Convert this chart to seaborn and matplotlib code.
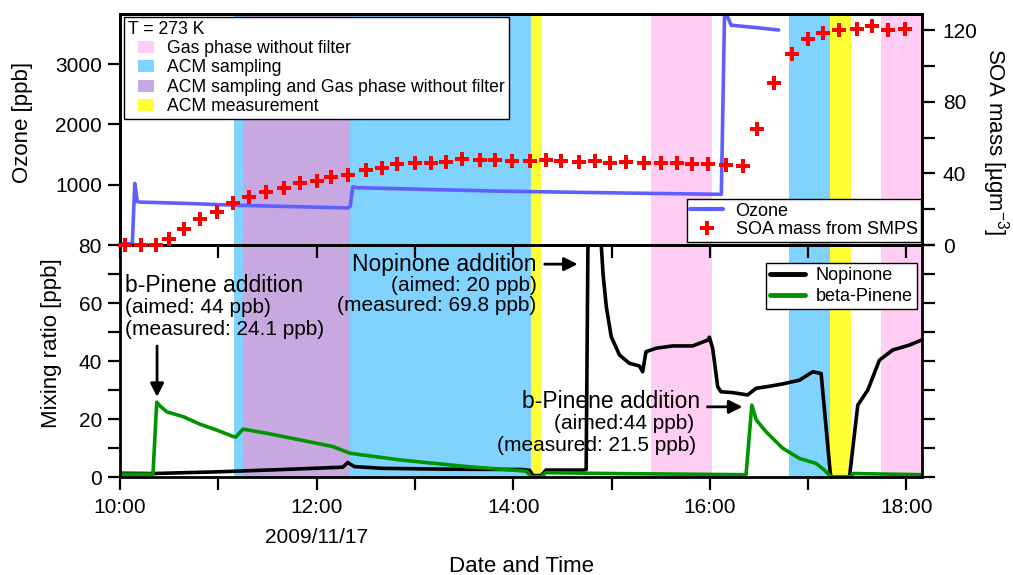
import pandas as pd
import matplotlib
matplotlib.use("Agg")
import matplotlib.pyplot as plt
from matplotlib.patches import Patch, Rectangle
from matplotlib.lines import Line2D
from matplotlib.legend_handler import HandlerPatch
import seaborn as sns

sns.set_theme(style="ticks")
plt.rcParams['font.family'] = ['Liberation Sans', 'DejaVu Sans']
plt.rcParams['mathtext.fontset'] = 'custom'
plt.rcParams['mathtext.rm'] = 'Liberation Sans'
plt.rcParams['mathtext.it'] = 'Liberation Sans:italic'
for key in ['text.color', 'axes.labelcolor', 'xtick.color', 'ytick.color', 'axes.edgecolor']:
    plt.rcParams[key] = 'black'

t0 = pd.Timestamp("2009-11-17 10:00")

# ozone [ppb] vs minutes after 10:00
ozone_min = [0.5, 7.5, 9, 10.5, 12, 40, 70, 100, 139, 140.5, 142, 145, 190, 232, 300, 367, 369, 373, 390, 402]
ozone_ppb = [20, 20, 1020, 720, 712, 690, 660, 640, 615, 640, 965, 950, 920, 893, 865, 840, 3900, 3645, 3600, 3565]

# SOA mass from SMPS [ug m-3]
soa_min = [3, 13, 22, 30, 39, 49, 59, 69, 79, 89, 100, 110, 120, 129, 139, 150, 160, 169, 180, 190,
           199, 209, 220, 229, 239, 250, 260, 269, 280, 290, 299, 309, 320, 330, 340, 349, 359, 370,
           380, 389, 399, 410, 420, 429, 439, 450, 459, 469, 479]
soa_mass = [0, 0, 0, 3.2, 8.8, 14.3, 18.6, 23.6, 27, 29.7, 32, 34.4, 35.9, 37.8, 39.2, 41.8, 42.8, 45, 45.6, 45.9,
            46.5, 47.8, 47.4, 47.4, 47.0, 47.0, 47.4, 47.0, 46.5, 47.0, 45.9, 46.5, 45.9, 45.9, 45.6, 45.2, 45.2, 44.6,
            44.3, 64.7, 90.6, 106.4, 115.3, 118.5, 120, 120.9, 122.2, 120, 120.4]

# nopinone [ppb]
nopi_min = [0, 20, 60, 100, 136, 139, 143, 160, 200, 245, 250, 252, 257, 260, 283.5, 284.5, 286, 291,
            293.5, 294.8, 296.8, 299.8, 304.8, 310.9, 317, 319, 321, 327.1, 337.3, 349.5, 358.7, 359.7,
            361.7, 364.8, 366.8, 373.9, 383.1, 388.2, 394.3, 404.5, 414.7, 422.8, 427.9, 433.5, 434,
            445.2, 450.3, 456.4, 463.5, 471.6, 481.8, 489]
nopi_ppb = [1.3, 1.2, 1.8, 2.6, 3.4, 5.0, 3.6, 3.0, 2.7, 2.6, 2.3, 0.5, 0.5, 2.4, 2.4, 2.6, 110, 110,
            82, 70, 58.7, 48.4, 42.1, 39.2, 38.3, 36.3, 43.2, 44.4, 45.2, 45.2, 47.2, 48.2,
            44.4, 31.1, 29.4, 29.1, 28.3, 30.6, 31.1, 32.1, 33.4, 36.3, 35.7, 1.3, 0,
            0, 24.8, 30, 40.3, 43.8, 45.5, 47.2]

# beta-pinene [ppb]
bpin_min = [0, 20.1, 22.4, 24.4, 28.5, 38.6, 48.8, 59, 68.9, 70.7, 75, 89.5, 109.8, 129.9, 140.3, 170.7,
            211.6, 243.9, 248, 251, 257, 260, 300, 340, 382.1, 385.6, 388.3, 394.3, 404.5, 414.7, 424.8,
            429.9, 434, 446, 447.5, 489]
bpin_ppb = [1.0, 1.0, 25.8, 24.5, 22.5, 20.8, 18.2, 16.2, 14.0, 13.8, 16.5, 15.1, 12.8, 10.5, 8.2, 5.9,
            3.6, 2.2, 2.0, 0.1, 0.1, 1.5, 1.2, 1.0, 0.8, 24.8, 19.7, 15.6, 9.9, 6.4, 4.7,
            2.4, 0.1, 0.1, 1.2, 0.8]

# experiment phases (start, end in minutes after 10:00, phase index)
phase_labels = ["Gas phase without filter", "ACM sampling",
                "ACM sampling and Gas phase without filter", "ACM measurement"]
phase_colors = ["#FFCCF2", "#80D2FF", "#C8A8E0", "#FFFF33"]
phase_spans = [(69.5, 75.0, 1), (75.0, 140.6, 2), (140.6, 250.6, 1), (250.6, 257.1, 3),
               (323.8, 361.4, 0), (408.5, 433.2, 1), (433.2, 446.4, 3), (464.6, 489.5, 0)]


def tm(m):
    return t0 + pd.to_timedelta(m, unit="min")


ozone_df = pd.DataFrame({"time": tm(pd.Series(ozone_min)), "ozone": ozone_ppb})
soa_df = pd.DataFrame({"time": tm(pd.Series(soa_min)), "soa": soa_mass})
nopi_df = pd.DataFrame({"time": tm(pd.Series(nopi_min)), "ppb": nopi_ppb})
bpin_df = pd.DataFrame({"time": tm(pd.Series(bpin_min)), "ppb": bpin_ppb})

c_ozone = "#5F5FFF"
c_green = "#009400"

fig = plt.figure(figsize=(10.13, 5.75), dpi=100)
ax1 = fig.add_axes([0.1185, 0.5739, 0.7917, 0.4017])
ax2 = fig.add_axes([0.1185, 0.1704, 0.7917, 0.4035])
ax1b = ax1.twinx()
ax2.set_zorder(1)
ax1.set_zorder(2)
ax1b.set_zorder(3)
ax2.patch.set_visible(False)

for ax in (ax1, ax2):
    for a, b, k in phase_spans:
        ax.axvspan(tm(a), tm(b), color=phase_colors[k], lw=0, zorder=0)

sns.lineplot(data=ozone_df, x="time", y="ozone", ax=ax1, color=c_ozone, lw=2.6, sort=False, legend=False)
sns.scatterplot(data=soa_df, x="time", y="soa", ax=ax1b, marker="P", s=95, color="red",
                linewidth=0, clip_on=False, legend=False, zorder=4)
sns.lineplot(data=nopi_df, x="time", y="ppb", ax=ax2, color="black", lw=2.6, sort=False, legend=False)
sns.lineplot(data=bpin_df, x="time", y="ppb", ax=ax2, color=c_green, lw=2.6, sort=False, legend=False)

xmin, xmax = tm(0), tm(489.5)
for ax in (ax1, ax1b, ax2):
    ax.set_xlim(xmin, xmax)
    for s in ax.spines.values():
        s.set_linewidth(2)
        s.set_color("black")

ax1.set_ylim(0, 3830)
ax1.set_yticks([1000, 2000, 3000])
ax1b.set_ylim(0, 129)
ax1b.set_yticks([0, 40, 80, 120])
ax1b.set_yticks([20, 60, 100], minor=True)
ax2.set_ylim(0, 80)
ax2.set_yticks([0, 20, 40, 60, 80])
ax2.set_yticks([10, 30, 50, 70], minor=True)

major = [tm(60 * h) for h in range(0, 9, 2)]
minor = [tm(60 * h) for h in range(1, 9, 2)]
for ax in (ax1, ax2):
    ax.set_xticks(major)
    ax.set_xticks(minor, minor=True)
ax2.set_xticklabels(["10:00", "12:00\n2009/11/17", "14:00", "16:00", "18:00"], va="top", linespacing=1.75)
ax1.tick_params(axis="x", which="both", labelbottom=False, bottom=True, direction="out", length=9, width=1.6)
ax2.tick_params(axis="x", which="both", direction="out", length=9, width=1.6, labelsize=15, pad=6)
ax1.tick_params(axis="y", which="both", direction="out", length=9, width=1.6, labelsize=15, pad=4)
ax1b.tick_params(axis="y", which="both", direction="out", length=9, width=1.6, labelsize=15, pad=6)
ax2.tick_params(axis="y", which="both", direction="out", length=9, width=1.6, labelsize=15, pad=4,
                left=True, right=True, labelright=False)

ax1.set_xlabel("")
ax2.set_xlabel("Date and Time", fontsize=16)
ax2.xaxis.set_label_coords(0.5, -0.34)
ax1.set_ylabel("Ozone [ppb]", fontsize=16)
ax1.yaxis.set_label_coords(-0.1085, 0.532)
ax2.set_ylabel("Mixing ratio [ppb]", fontsize=16)
ax2.yaxis.set_label_coords(-0.0723, 0.578)
ax1b.set_ylabel(r"SOA mass [µgm$^{\mathrm{-3}}$]", fontsize=16, rotation=270, va="bottom")
ax1b.yaxis.set_label_coords(1.072, 0.446)


def indented_patch(legend, orig_handle, xdescent, ydescent, width, height, fontsize):
    return Rectangle((-xdescent + 0.38 * width, -ydescent), 0.62 * width, height)


# legends
phase_handles = [Patch(facecolor=c, edgecolor="none", label=l) for c, l in zip(phase_colors, phase_labels)]
leg1 = ax1b.legend(handles=phase_handles, title="T = 273 K", loc="upper left", bbox_to_anchor=(0.005, 0.987),
                   borderaxespad=0, fontsize=12.7, title_fontsize=12.7, alignment="left", frameon=True,
                   fancybox=False, edgecolor="black", framealpha=1, borderpad=0.2, labelspacing=0.14,
                   handlelength=1.5, handleheight=0.7, handletextpad=0.75,
                   handler_map={Patch: HandlerPatch(patch_func=indented_patch)})
leg1.get_frame().set_linewidth(1)
ax1b.add_artist(leg1)
oz_handles = [Line2D([], [], color=c_ozone, lw=3, label="Ozone"),
              Line2D([], [], marker="P", color="red", ls="none", markersize=10, markeredgewidth=0,
                     label="SOA mass from SMPS")]
leg2 = ax1b.legend(handles=oz_handles, loc="lower right", bbox_to_anchor=(0.999, 0.013), borderaxespad=0,
                   fontsize=13, frameon=True, fancybox=False, edgecolor="black", framealpha=1,
                   borderpad=0.2, labelspacing=0.1, handlelength=1.8, handletextpad=0.7)
leg2.get_frame().set_linewidth(1)
mr_handles = [Line2D([], [], color="black", lw=3.5, label="Nopinone"),
              Line2D([], [], color=c_green, lw=3.5, label="beta-Pinene")]
leg3 = ax2.legend(handles=mr_handles, loc="upper right", bbox_to_anchor=(0.9938, 0.9237), borderaxespad=0,
                  fontsize=13, frameon=True, fancybox=False, edgecolor="black", framealpha=1,
                  borderpad=0.25, labelspacing=0.2, handlelength=1.9, handletextpad=0.6)
leg3.get_frame().set_linewidth(1)

# annotations
arrow = dict(arrowstyle="-|>", color="black", lw=2, mutation_scale=20, shrinkA=0, shrinkB=0)
ax2.text(tm(3), 66.2, "b-Pinene addition", fontsize=16.5, ha="left", va="center")
ax2.text(tm(3), 58.3, "(aimed: 44 ppb)", fontsize=15, ha="left", va="center")
ax2.text(tm(3), 50.7, "(measured: 24.1 ppb)", fontsize=15, ha="left", va="center")
ax2.annotate("", xy=(tm(22.6), 27.6), xytext=(tm(22.6), 45.2), arrowprops=arrow)

ax2.text(tm(254.3), 73.4, "Nopinone addition", fontsize=16.5, ha="right", va="center")
ax2.text(tm(254.3), 65.9, "(aimed: 20 ppb)", fontsize=15, ha="right", va="center")
ax2.text(tm(254.3), 59.0, "(measured: 69.8 ppb)", fontsize=15, ha="right", va="center")
ax2.annotate("", xy=(tm(279.3), 73.4), xytext=(tm(259.2), 73.4), arrowprops=arrow)

ax2.text(tm(354.3), 25.9, "b-Pinene addition", fontsize=16.5, ha="right", va="center")
ax2.text(tm(350.6), 18.6, "(aimed:44 ppb)", fontsize=15, ha="right", va="center")
ax2.text(tm(351.8), 11.0, "(measured: 21.5 ppb)", fontsize=15, ha="right", va="center")
ax2.annotate("", xy=(tm(379.9), 24.2), xytext=(tm(358.5), 24.2), arrowprops=arrow)

fig.savefig("out.png", dpi=100)
